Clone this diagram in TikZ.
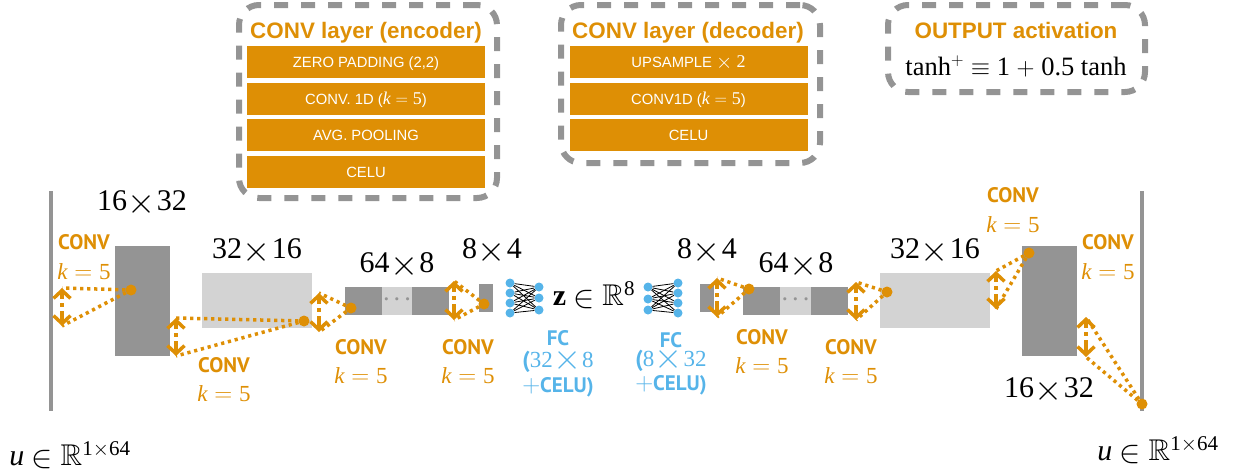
\documentclass[tikz,border=0pt]{standalone}
\usepackage{amssymb}
\usepackage{fontspec}
\setmainfont{Liberation Serif}
\setsansfont{Liberation Sans}
\newfontfamily\dinfont{PT Sans}
\usetikzlibrary{graphs}
\usetikzlibrary{arrows.meta}

\definecolor{convorange}{HTML}{DE8F05}
\definecolor{fcblue}{HTML}{56B4E9}
\definecolor{blockgray}{HTML}{949494}
\definecolor{blocklight}{HTML}{D3D3D3}

\newcommand{\kfive}{{\rmfamily\itshape k}$\;=\;${\rmfamily 5}}
\newcommand{\boxkfive}{{\fontsize{18}{20}\selectfont\kfive}}
\newcommand{\bigby}{\raisebox{-0.11em}{\scalebox{1.45}{$\times$}}}
\newcommand{\bigin}{\raisebox{-0.07em}{\scalebox{1.28}{$\in$}}}
\newcommand{\bytimes}[2]{#1\kern0.03em\bigby\kern0.03em#2}
\newcommand{\bigplus}{{\normalfont\fontsize{26}{28}\selectfont$+$}}

\tikzset{
    block/.style={rectangle,inner sep=0pt,fill=#1},
    dim/.style={anchor=base,inner sep=0pt,font=\fontsize{30}{32}\selectfont},
    panel/.style={rectangle,inner sep=0pt,draw=blockgray,line width=6pt,rounded corners=20pt,dash pattern=on 14pt off 13pt},
    layerbox/.style={rectangle,inner sep=0pt,fill=convorange,text=white,minimum width=238pt,minimum height=32pt,text height=10.6pt,text depth=0pt,font=\sffamily\fontsize{14.8}{16}\selectfont},
    paneltitle/.style={anchor=base,inner sep=0pt,text=convorange,font=\sffamily\bfseries\fontsize{22.4}{24}\selectfont},
    convname/.style={anchor=base,inner sep=0pt,text=convorange,font=\dinfont\bfseries\fontsize{21}{24}\selectfont},
    kname/.style={anchor=base,inner sep=0pt,text=convorange,font=\fontsize{23}{26}\selectfont},
    fcname/.style={anchor=base,inner sep=0pt,text=fcblue,font=\dinfont\bfseries\fontsize{21}{24}\selectfont},
    fcsize/.style={anchor=base,inner sep=0pt,text=fcblue,font=\fontsize{23}{26}\selectfont},
    hub/.style={circle,inner sep=0pt,fill=convorange,minimum size=11pt},
    neuron/.style={circle,inner sep=0pt,fill=fcblue,minimum size=9pt},
    gapdots/.style={inner sep=0pt,text=blockgray,font=\fontsize{20}{22}\selectfont\boldmath},
    kernel/.style={convorange,line width=3.5pt,dash pattern=on 3.2pt off 3.8pt},
    spread/.style={convorange,line width=3.5pt,dash pattern=on 7pt off 4pt on 4pt off 4pt on 20pt,{Straight Barb[length=8pt,width=17pt,line width=3.5pt]}-{Straight Barb[length=8pt,width=17pt,line width=3.5pt]}}
}

\begin{document}
\begin{tikzpicture}[x=1pt,y=-1pt]
    \useasboundingbox (0,0) rectangle (1237,475);

    % detail panels
    \node[panel,minimum width=258pt,minimum height=193pt] (encpanel) at (368,101.5) {};
    \node[panel,minimum width=259pt,minimum height=158pt] (decpanel) at (690.5,84) {};
    \node[panel,minimum width=257pt,minimum height=87pt] (outpanel) at (1016.5,48.5) {};

    \node[paneltitle] (enctitle) at (366,38) {CONV layer (encoder)};
    \node[layerbox] (enca) at (366,62) {ZERO PADDING (2,2)};
    \node[layerbox] (encb) at (366,99) {CONV. 1D (\boxkfive)};
    \node[layerbox] (encc) at (366,135) {AVG. POOLING};
    \node[layerbox] (encd) at (366,172) {CELU};

    \node[paneltitle] (dectitle) at (688,38) {CONV layer (decoder)};
    \node[layerbox] (deca) at (688.5,62) {UPSAMPLE \bigby{} {\rmfamily\fontsize{18}{20}\selectfont 2}};
    \node[layerbox] (decb) at (688.5,99) {CONV1D (\boxkfive)};
    \node[layerbox] (decc) at (688.5,135) {CELU};

    \node[paneltitle] (outtitle) at (1016,38) {OUTPUT activation};
    \node[anchor=base,inner sep=0pt,font=\fontsize{26.5}{28}\selectfont] (outtext) at (1016,75) {tanh$^{+}\equiv$ 1 $+$ 0.5 tanh};

    % encoder blocks
    \node[block=blockgray,minimum width=4pt,minimum height=220pt] (inbar) at (51,301) {};
    \node[block=blockgray,minimum width=55pt,minimum height=110pt] (enclayera) at (142.5,301) {};
    \node[block=blocklight,minimum width=110pt,minimum height=55pt] (enclayerb) at (257,300.5) {};
    \node[block=blockgray,minimum width=37pt,minimum height=28pt] (enclayerc) at (363.5,301) {};
    \node[block=blocklight,minimum width=30pt,minimum height=28pt] (enclayerd) at (397,301) {};
    \node[block=blockgray,minimum width=37pt,minimum height=28pt] (enclayere) at (430.5,301) {};
    \node[block=blockgray,minimum width=14pt,minimum height=28pt] (enclayerf) at (486,298) {};

    % decoder blocks
    \node[block=blockgray,minimum width=14pt,minimum height=28pt] (declayera) at (707,298) {};
    \node[block=blockgray,minimum width=37pt,minimum height=28pt] (declayerb) at (761.5,301) {};
    \node[block=blocklight,minimum width=31pt,minimum height=28pt] (declayerc) at (795.5,301) {};
    \node[block=blockgray,minimum width=37pt,minimum height=28pt] (declayerd) at (829.5,301) {};
    \node[block=blocklight,minimum width=110pt,minimum height=55pt] (declayere) at (935,300.5) {};
    \node[block=blockgray,minimum width=55pt,minimum height=110pt] (declayerf) at (1049.5,301) {};
    \node[block=blockgray,minimum width=4pt,minimum height=220pt] (outbar) at (1142,301) {};

    \node[gapdots] (dotsa) at (397,300) {$\cdots$};
    \node[gapdots] (dotsb) at (795.5,300) {$\cdots$};

    % size labels
    \node[dim] (dima) at (142,210) {\bytimes{16}{32}};
    \node[dim] (dimb) at (257,258) {\bytimes{32}{16}};
    \node[dim] (dimc) at (397,272) {\bytimes{64}{8}};
    \node[dim] (dimd) at (492,258) {\bytimes{8}{4}};
    \node[dim] (dime) at (707,258) {\bytimes{8}{4}};
    \node[dim] (dimf) at (796,272) {\bytimes{64}{8}};
    \node[dim] (dimg) at (935,258) {\bytimes{32}{16}};
    \node[dim] (dimh) at (1049,397) {\bytimes{16}{32}};

    \node[dim] (inlabel) at (70,465) {{\itshape u} \bigin{} $\mathbb{R}^{\mathrm{1\times 64}}$};
    \node[dim] (outlabel) at (1158,460) {{\itshape u} \bigin{} $\mathbb{R}^{\mathrm{1\times 64}}$};
    \node[dim] (latent) at (594,305) {$\mathbf{z}$ \bigin{} $\mathbb{R}^{\mathrm{8}}$};

    % convolution labels
    \node[convname] (cnamea) at (84,249) {CONV};
    \node[kname] (kvala) at (84,279) {\kfive};
    \node[convname] (cnameb) at (224,372) {CONV};
    \node[kname] (kvalb) at (224,401) {\kfive};
    \node[convname] (cnamec) at (361,354) {CONV};
    \node[kname] (kvalc) at (361,383) {\kfive};
    \node[convname] (cnamed) at (468,354) {CONV};
    \node[kname] (kvald) at (468,383) {\kfive};
    \node[convname] (cnamee) at (762,344) {CONV};
    \node[kname] (kvale) at (762,373) {\kfive};
    \node[convname] (cnamef) at (851,354) {CONV};
    \node[kname] (kvalf) at (851,383) {\kfive};
    \node[convname] (cnameg) at (1013,202) {CONV};
    \node[kname] (kvalg) at (1013,232) {\kfive};
    \node[convname] (cnameh) at (1108,249) {CONV};
    \node[kname] (kvalh) at (1108,279) {\kfive};

    % fully connected labels
    \node[fcname] (fcnamea) at (558,345) {FC};
    \node[fcsize] (fcsizea) at (558,367) {{\dinfont\bfseries(}\bytimes{32}{8}};
    \node[fcname] (fcacta) at (558,392) {\bigplus CELU)};
    \node[fcname] (fcnameb) at (671,347) {FC};
    \node[fcsize] (fcsizeb) at (671,366) {{\dinfont\bfseries(}\bytimes{8}{32}};
    \node[fcname] (fcactb) at (671,390) {\bigplus CELU)};

    % fully connected nets
    \node[neuron] (na) at (510,283) {};
    \node[neuron] (nb) at (510,293) {};
    \node[neuron] (nc) at (510,303) {};
    \node[neuron] (nd) at (510,313) {};
    \node[neuron] (ne) at (539,287) {};
    \node[neuron] (nf) at (539,298) {};
    \node[neuron] (ng) at (539,310) {};

    \node[neuron] (ma) at (648,287) {};
    \node[neuron] (mb) at (648,299) {};
    \node[neuron] (mc) at (648,310) {};
    \node[neuron] (md) at (678,283) {};
    \node[neuron] (me) at (678,293) {};
    \node[neuron] (mf) at (678,303) {};
    \node[neuron] (mg) at (678,313) {};

    \graph[edges={-,line width=0.8pt}] {
        {(na),(nb),(nc),(nd)} -- [complete bipartite] {(ne),(nf),(ng)};
        {(ma),(mb),(mc)} -- [complete bipartite] {(md),(me),(mf),(mg)};
    };

    % convolution kernels
    \node[hub] (hubs) at (131,290) {};
    \coordinate (tops) at (62,288);
    \coordinate (bots) at (62,326);
    \node[hub] (hubt) at (304,321) {};
    \coordinate (topt) at (176,318);
    \coordinate (bott) at (176,356);
    \node[hub] (hubu) at (351,308) {};
    \coordinate (topu) at (319,293);
    \coordinate (botu) at (319,332);
    \node[hub] (hubv) at (484,304) {};
    \coordinate (topv) at (454,281);
    \coordinate (botv) at (454,320);
    \node[hub] (hubw) at (749,289) {};
    \coordinate (topw) at (717,278);
    \coordinate (botw) at (717,317);
    \node[hub] (hubx) at (887,292) {};
    \coordinate (topx) at (856,282);
    \coordinate (botx) at (856,320);
    \node[hub] (huby) at (1029,253) {};
    \coordinate (topy) at (996,271);
    \coordinate (boty) at (996,309);
    \node[hub] (hubz) at (1142,404) {};
    \coordinate (topz) at (1086,317);
    \coordinate (botz) at (1086,357);

    \draw[kernel] (hubs) -- (tops);
    \draw[kernel] (hubs) -- (bots);
    \draw[spread] (tops) -- (bots);
    \draw[kernel] (hubt) -- (topt);
    \draw[kernel] (hubt) -- (bott);
    \draw[spread] (topt) -- (bott);
    \draw[kernel] (hubu) -- (topu);
    \draw[kernel] (hubu) -- (botu);
    \draw[spread] (topu) -- (botu);
    \draw[kernel] (hubv) -- (topv);
    \draw[kernel] (hubv) -- (botv);
    \draw[spread] (topv) -- (botv);
    \draw[kernel] (hubw) -- (topw);
    \draw[kernel] (hubw) -- (botw);
    \draw[spread] (topw) -- (botw);
    \draw[kernel] (hubx) -- (topx);
    \draw[kernel] (hubx) -- (botx);
    \draw[spread] (topx) -- (botx);
    \draw[kernel] (huby) -- (topy);
    \draw[kernel] (huby) -- (boty);
    \draw[spread] (topy) -- (boty);
    \draw[kernel] (hubz) -- (topz);
    \draw[kernel] (hubz) -- (botz);
    \draw[spread] (topz) -- (botz);
\end{tikzpicture}
\end{document}
